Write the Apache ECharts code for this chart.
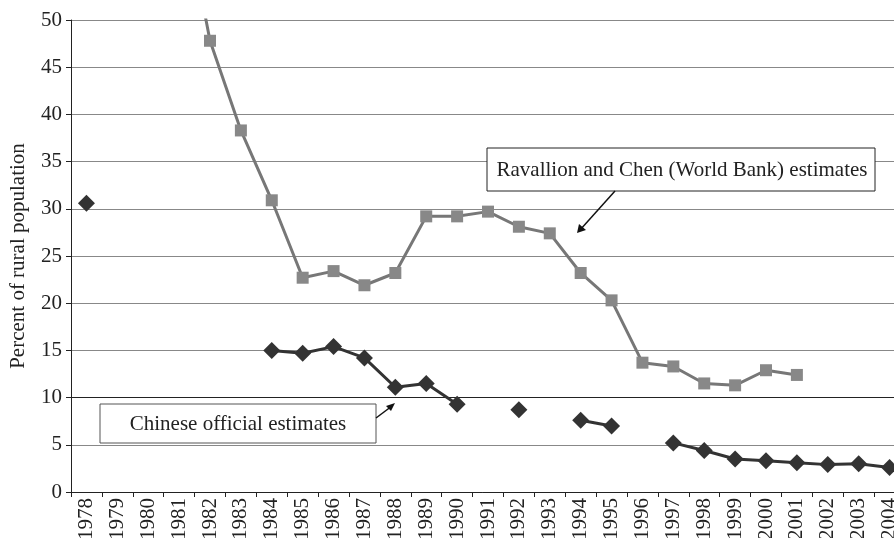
<!DOCTYPE html>
<html>
<head>
<meta charset="utf-8">
<script src="https://cdn.jsdelivr.net/npm/echarts@6/dist/echarts.min.js"></script>
<style>html,body{margin:0;padding:0;background:#fff}#main{width:894px;height:538px}</style>
</head>
<body>
<div id="main"></div>
<script>
var years = ['1978','1979','1980','1981','1982','1983','1984','1985','1986','1987','1988','1989','1990',
  '1991','1992','1993','1994','1995','1996','1997','1998','1999','2000','2001','2002','2003','2004'];
// Ravallion and Chen (World Bank)
var rcData = [null,null,null,64.8,47.8,38.3,30.9,22.7,23.4,21.9,23.2,29.2,29.2,
  29.7,28.1,27.4,23.2,20.3,13.7,13.3,11.5,11.3,12.9,12.4,null,null,null];
// Chinese official
var offData = [30.6,null,null,null,null,null,15.0,14.7,15.4,14.2,11.1,11.5,9.3,
  null,8.7,null,7.6,7.0,null,5.2,4.4,3.5,3.3,3.1,2.9,3.0,2.6];
var yTicks = [0,5,10,15,20,25,30,35,40,45,50];

var FONT = '"Liberation Serif", "DejaVu Serif", serif';
var myChart = echarts.init(document.getElementById('main'));
var option = {
  animation: false,
  textStyle: {fontFamily: FONT},
  grid: {left: 71, top: 20, bottom: 46, right: -11, containLabel: false, outerBoundsMode: 'none'},
  xAxis: {
    type: 'category',
    data: years,
    boundaryGap: true,
    axisLine: {lineStyle: {color: '#222', width: 1}},
    axisTick: {show: true, length: 5, lineStyle: {color: '#222'}},
    axisLabel: {rotate: 90, interval: 0, fontSize: 21, color: '#222', fontFamily: FONT, margin: 6}
  },
  yAxis: {
    type: 'value',
    min: yTicks[0], max: yTicks[yTicks.length - 1], interval: 5,
    name: 'Percent of rural population',
    nameLocation: 'middle',
    nameGap: 42,
    nameTextStyle: {fontSize: 21, color: '#222', fontFamily: FONT},
    axisLine: {show: true, lineStyle: {color: '#222'}},
    axisTick: {show: true, length: 5, lineStyle: {color: '#222'}},
    axisLabel: {fontSize: 21, color: '#222', fontFamily: FONT, margin: 9},
    splitLine: {lineStyle: {color: ['#888','#888','#222','#888','#888','#888','#888','#888','#888','#888','#888'], width: 1.2}}
  },
  series: [
    {
      name: 'Ravallion and Chen',
      type: 'line',
      data: rcData,
      connectNulls: false,
      clip: true,
      symbol: 'rect',
      symbolSize: 12,
      lineStyle: {color: '#777', width: 3},
      itemStyle: {color: '#888', borderWidth: 0},
      z: 2
    },
    {
      name: 'Chinese official',
      type: 'line',
      data: offData,
      connectNulls: false,
      symbol: 'diamond',
      symbolSize: 17,
      lineStyle: {color: '#333', width: 3},
      itemStyle: {color: '#333', borderWidth: 0},
      z: 3
    }
  ],
  graphic: [
    {type: 'rect', shape: {x: 487, y: 148, width: 388, height: 43}, style: {fill: '#fff', stroke: '#222', lineWidth: 1}, z: 10},
    {type: 'text', x: 682, y: 170, style: {text: 'Ravallion and Chen (World Bank) estimates', font: '21px ' + FONT, fill: '#222', align: 'center', verticalAlign: 'middle'}, z: 11},
    {type: 'line', shape: {x1: 615, y1: 191, x2: 580, y2: 230}, style: {stroke: '#111', lineWidth: 1.5}, z: 10},
    {type: 'polygon', shape: {points: [[577, 233], [579, 224], [586, 230]]}, style: {fill: '#111'}, z: 10},
    {type: 'rect', shape: {x: 100, y: 404, width: 276, height: 39}, style: {fill: '#fff', stroke: '#555', lineWidth: 1}, z: 10},
    {type: 'text', x: 238, y: 424, style: {text: 'Chinese official estimates', font: '21px ' + FONT, fill: '#222', align: 'center', verticalAlign: 'middle'}, z: 11},
    {type: 'line', shape: {x1: 376, y1: 418, x2: 392, y2: 406}, style: {stroke: '#111', lineWidth: 1.5}, z: 10},
    {type: 'polygon', shape: {points: [[395, 403], [386, 406], [391, 411]]}, style: {fill: '#111'}, z: 10}
  ]
};
myChart.setOption(option);
</script>
</body>
</html>
